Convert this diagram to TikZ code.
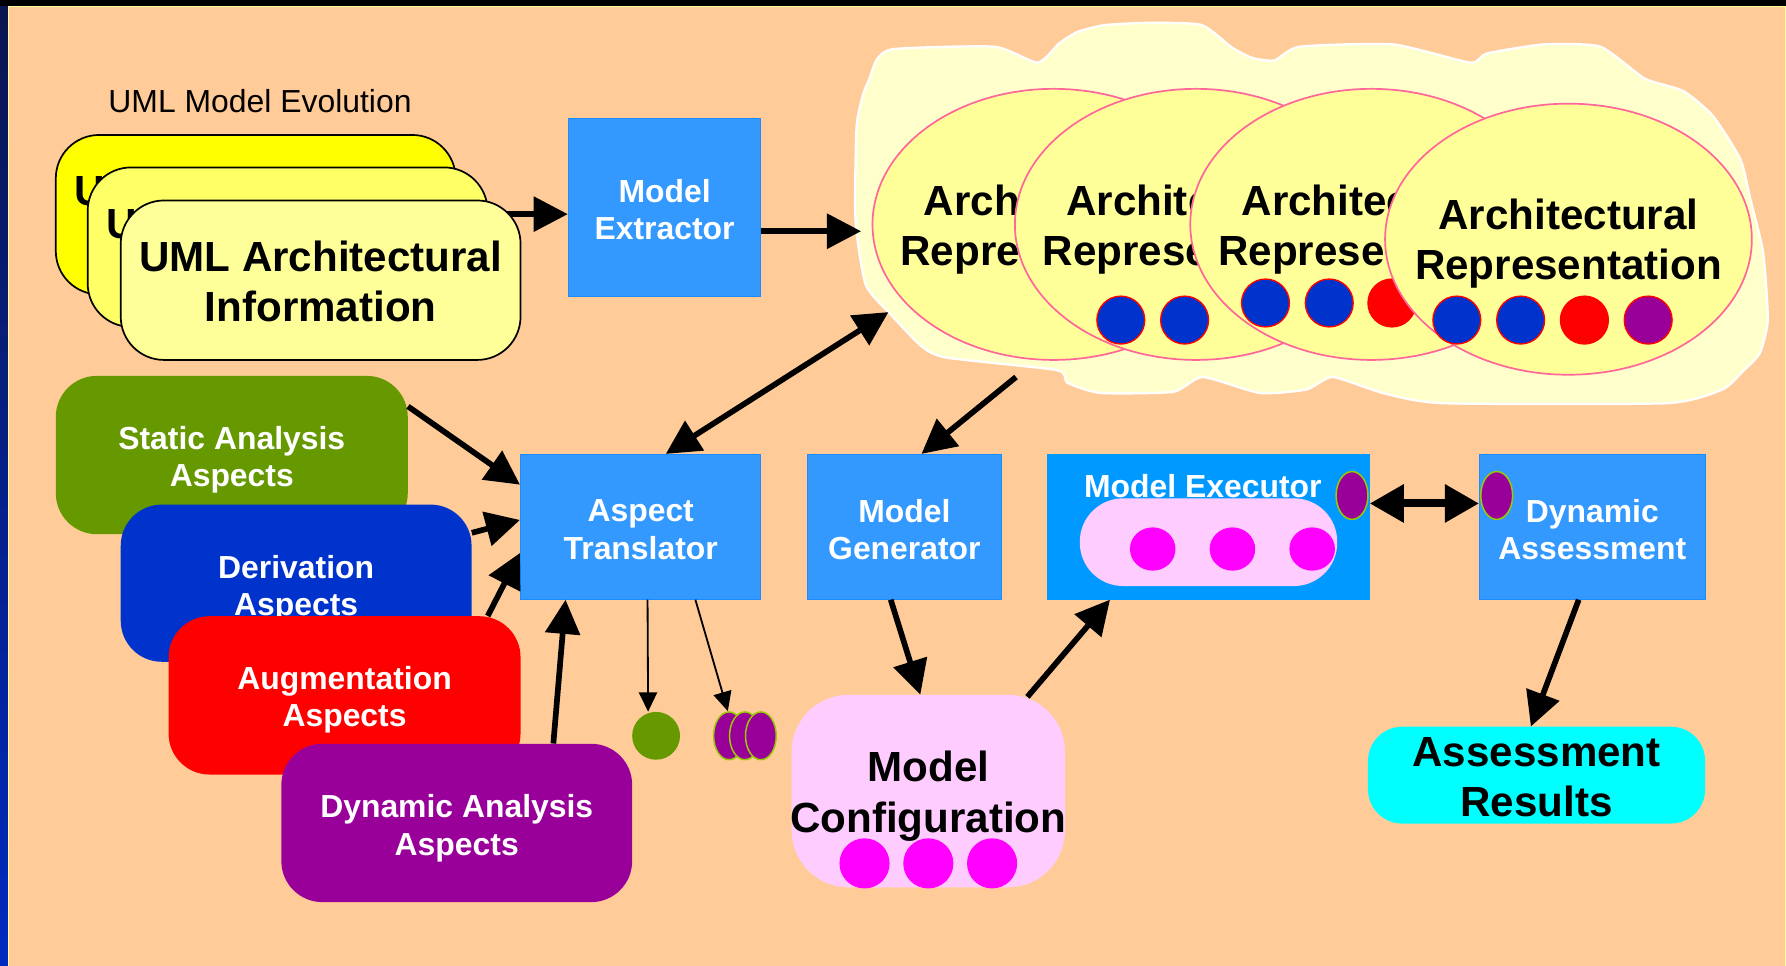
\documentclass[tikz,border=0pt]{standalone}
\usepackage{fontspec}
\setmainfont{Liberation Sans}
\usetikzlibrary{shapes.geometric,arrows.meta,calc}
\definecolor{peach}{HTML}{FFCC99}
\definecolor{navyA}{HTML}{0A1650}
\definecolor{navyB}{HTML}{002AC0}
\definecolor{frameline}{HTML}{FFFF99}
\definecolor{umlA}{HTML}{FFFF00}
\definecolor{umlB}{HTML}{FFFF66}
\definecolor{umlC}{HTML}{FFFF99}
\definecolor{boxblue}{HTML}{3399FF}
\definecolor{boxedge}{HTML}{1A8CFF}
\definecolor{execblue}{HTML}{0099FF}
\definecolor{cloudfill}{HTML}{FFFFCC}
\definecolor{archfill}{HTML}{FFFF99}
\definecolor{archline}{HTML}{FF6699}
\definecolor{dotblue}{HTML}{0033CC}
\definecolor{aspgreen}{HTML}{669900}
\definecolor{aspblue}{HTML}{0033CC}
\definecolor{asppurple}{HTML}{990099}
\definecolor{olive}{HTML}{99CC00}
\definecolor{pinkfill}{HTML}{FFCCFF}
\definecolor{magentadot}{HTML}{FF00FF}
\definecolor{cyanfill}{HTML}{00FFFF}
\tikzset{
  umlbox/.style={draw=black, line width=1.5, rounded corners=38, minimum width=351, minimum height=140, inner sep=0},
  bigtxt/.style={font=\fontsize{37}{44}\selectfont\bfseries, align=center, text=black, inner sep=0},
  cuttxt/.style={font=\fontsize{37}{44}\selectfont\bfseries, text=black, inner sep=0, anchor=base west},
  wtxt/.style={font=\fontsize{28}{33}\selectfont\bfseries, align=center, text=white, inner sep=0},
  aspectbox/.style={rounded corners=36, minimum width=309, minimum height=139, inner sep=0},
  bluebox/.style={fill=boxblue, draw=boxedge, line width=1, minimum height=127, inner sep=0},
  arch/.style={ellipse, fill=archfill, draw=archline, line width=1.5, minimum width=318, minimum height=238, inner sep=0},
  bigdot/.style={circle, minimum size=42, inner sep=0, draw=red, line width=1.2},
  pinkdot/.style={ellipse, fill=magentadot, minimum width=40, minimum height=40, inner sep=0},
  purpleoval/.style={ellipse, fill=asppurple, draw=olive, line width=1.3, minimum width=28, minimum height=42, inner sep=0},
  tarrow/.style={line width=5, -{Triangle[length=30pt,width=30pt]}},
  dtarrow/.style={line width=5, {Triangle[length=30pt,width=30pt]}-{Triangle[length=30pt,width=30pt]}},
  fatdarrow/.style={line width=7, {Triangle[length=30pt,width=32pt]}-{Triangle[length=30pt,width=32pt]}},
  thinarrow/.style={line width=1.6, -{Triangle[length=17pt,width=16pt]}}
}
\begin{document}
\begin{tikzpicture}[x=1pt,y=-1pt]
\useasboundingbox (0,0) rectangle (1568,848);
% background and frame
\fill[peach] (0,0) rectangle (1568,848);
\shade[top color=navyA, bottom color=navyB] (0,0) rectangle (7,848);
\fill[black] (0,0) rectangle (1568,5);
\draw[frameline, line width=1] (7.5,5.5) -- (1567.5,5.5) -- (1567.5,848);
\draw[frameline, line width=1] (7.5,5.5) -- (7.5,848);

% UML model evolution
\node[anchor=west, font=\fontsize{28}{33}\selectfont, inner sep=0] (title) at (95,89) {UML Model Evolution};
\node[umlbox, fill=umlA] (uml1) at (224.5,188.5) {};
\node[cuttxt] (uml1t) at (65.2,180.7) {U};
\node[umlbox, fill=umlB] (uml2) at (252.5,217) {};
\node[cuttxt] (uml2t) at (93.2,209.2) {U};
\node[bluebox, minimum width=169, minimum height=156] (extr) at (583.5,182) {};
\node[wtxt] (extrt) at (583.5,184) {Model\\Extractor};
\draw[tarrow] (uml2.east |- 0,188) -- (extr.west |- 0,188);
\node[umlbox, fill=umlC] (uml3) at (281.5,246) {};
\node[bigtxt] (uml3t) at (281.5,247) {UML Architectural\\Information};

% cloud of architectural representations
\filldraw[fill=cloudfill, draw=white, line width=2] plot[smooth cycle, tension=0.35] coordinates {
 (752,111) (758,82) (763,70) (770,52) (785,43) (873,41) (911,55) (930,38) (946,28) (970,22) (1010,20) (1055,22)
 (1082,42) (1100,51) (1119,53) (1141,41) (1223,39) (1291,55) (1305,47) (1355,39) (1405,41) (1444,69) (1478,80)
 (1504,102) (1528,140) (1537,176) (1548,222) (1552,281) (1545,310) (1530,326) (1512,342) (1463,354) (1267,354)
 (1214,345) (1170,331) (1147,342) (1106,345) (1056,331) (1030,344) (966,345) (937,336) (928,325) (831,314)
 (809,304) (781,275) (760,250) (751,193)};
\node[arch] (e1) at (925,197) {};
\node[cuttxt] (e1a) at (810.9,189) {Archit};
\node[cuttxt] (e1b) at (790.4,233) {Repre};
\node[arch] (e2) at (1050,197) {};
\node[cuttxt] (e2a) at (935.9,189) {Archite};
\node[cuttxt] (e2b) at (915.4,233) {Represe};
\node[bigdot, fill=dotblue] (d21) at (984,281) {};
\node[bigdot, fill=dotblue] (d22) at (1040,281) {};
\node[arch] (e3) at (1204,197) {};
\node[cuttxt] (e3a) at (1089.9,189) {Architec};
\node[cuttxt] (e3b) at (1069.4,233) {Represe};
\node[bigdot, fill=dotblue] (d31) at (1111,266) {};
\node[bigdot, fill=dotblue] (d32) at (1167,266) {};
\node[bigdot, fill=red] (d33) at (1222,266) {};
\node[arch, minimum width=322] (e4) at (1377,210) {};
\node[bigtxt] (e4t) at (1377,214) {Architectural\\Representation};
\node[bigdot, fill=dotblue] (d41) at (1279,281) {};
\node[bigdot, fill=dotblue] (d42) at (1335,281) {};
\node[bigdot, fill=red] (d43) at (1391,281) {};
\node[bigdot, fill=asppurple] (d44) at (1447,281) {};

% aspect boxes
\node[aspectbox, fill=aspgreen] (stat) at (203.5,399.5) {};
\node[wtxt] (statt) at (203.5,403.5) {Static Analysis\\Aspects};
\node[aspectbox, fill=aspblue, minimum width=308, minimum height=138] (deriv) at (260,512) {};
\node[wtxt] (derivt) at (260,517) {Derivation\\Aspects};
\node[aspectbox, fill=red] (augm) at (302.5,610.5) {};
\node[wtxt] (augmt) at (302.5,614.5) {Augmentation\\Aspects};
\node[aspectbox, fill=asppurple, minimum width=308] (dyn) at (401,722.5) {};
\node[wtxt] (dynt) at (401,727) {Dynamic Analysis\\Aspects};

% processing boxes
\node[bluebox, minimum width=211] (at) at (562.5,462.5) {};
\node[wtxt] (att) at (562.5,465) {Aspect\\Translator};
\node[bluebox, minimum width=170] (gen) at (794,462.5) {};
\node[wtxt] (gent) at (794,465) {Model\\Generator};
\node[bluebox, fill=execblue, draw=execblue, minimum width=282] (exec) at (1061,462.5) {};
\node[wtxt] (exect) at (1056,427) {Model Executor};
\node[fill=pinkfill, rounded corners=38, minimum width=226, minimum height=77, inner sep=0] (execp) at (1061,476) {};
\node[pinkdot, minimum height=38] (x1) at (1012,482) {};
\node[pinkdot, minimum height=38] (x2) at (1082,482) {};
\node[pinkdot, minimum height=38] (x3) at (1152,482) {};
\node[purpleoval] (xo) at (1187,435) {};
\node[bluebox, minimum width=198] (dass) at (1398,462.5) {};
\node[wtxt] (dasst) at (1398,465) {Dynamic\\Assessment};
\node[purpleoval] (dso) at (1314,435) {};

% outputs
\node[fill=pinkfill, rounded corners=50, minimum width=240, minimum height=169, inner sep=0] (config) at (815,694.5) {};
\node[bigtxt] (configt) at (815,699) {Model\\Configuration};
\node[pinkdot, minimum width=44, minimum height=44] (c1) at (759,758) {};
\node[pinkdot, minimum width=44, minimum height=44] (c2) at (815,758) {};
\node[pinkdot, minimum width=44, minimum height=44] (c3) at (871,758) {};
\node[fill=cyanfill, rounded corners=30, minimum width=296, minimum height=85, inner sep=0] (res) at (1349,680.5) {};
\node[bigtxt] (rest) at (1349,682) {Assessment\\Results};
\node[circle, fill=aspgreen, minimum size=42, inner sep=0] (gdot) at (576,646) {};
\node[purpleoval, minimum width=27] (p1) at (640,646) {};
\node[purpleoval, minimum width=27] (p2) at (654,646) {};
\node[purpleoval, minimum width=27] (p3) at (668,646) {};

% connectors
\coordinate (cloudA) at (780,274);
\coordinate (cloudB) at (892,331);
\coordinate (cloudC) at (756,203);
\draw[tarrow] (extr.east |- cloudC) -- (cloudC);
\draw[tarrow] ($(stat.north east)+(0,27)$) -- ($(at.north west)+(0,27)$);
\draw[tarrow] ($(deriv.north east)+(0,25)$) -- ($(at.west)+(0,-6)$);
\draw[tarrow] ($(augm.north east)+(-29,0)$) -- ($(at.south west)+(0,-41)$);
\draw[tarrow] ($(dyn.north west)+(239,0)$) -- ($(at.south west)+(40,0)$);
\draw[dtarrow] ($(at.north)+(22,0)$) -- (cloudA);
\draw[tarrow] (cloudB) -- ($(gen.north)+(15,0)$);
\draw[tarrow] ($(gen.south)+(-12,0)$) -- ($(config.north)+(-7,0)$);
\draw[tarrow] ($(config.north)+(87,2)$) -- ($(exec.south west)+(55,0)$);
\draw[fatdarrow] (exec.east |- 0,442) -- (dass.west |- 0,442);
\draw[tarrow] ($(dass.south)+(-12,0)$) -- ($(res.north)+(-5,0)$);
\draw[thinarrow] ($(at.south west)+(112,0)$) -- (gdot.north -| 569,0);
\draw[thinarrow] ($(at.south west)+(154,0)$) -- ($(p1.north)+(-1,0)$);
\end{tikzpicture}
\end{document}
